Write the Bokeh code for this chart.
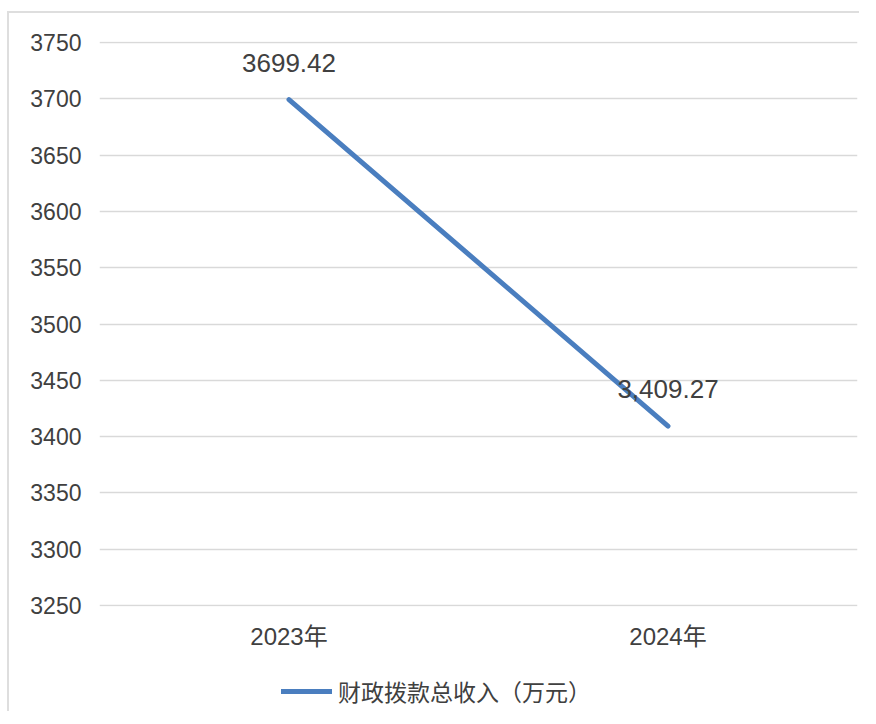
from bokeh.plotting import figure
from bokeh.layouts import column
from bokeh.models import ColumnDataSource, Range1d, FixedTicker, Legend, LegendItem, LabelSet
from bokeh.core.properties import value
from bokeh.embed import file_html
from bokeh.resources import INLINE

# ---- data ----
years = ["2023年", "2024年"]
revenue = [3699.42, 3409.27]
value_labels = ["3699.42", "3,409.27"]
y_ticks = [3250, 3300, 3350, 3400, 3450, 3500, 3550, 3600, 3650, 3700, 3750]
series_name = "财政拨款总收入（万元）"

NUM_FONT = "Liberation Sans"
CJK_FONT = "Liberation Sans, Noto Sans CJK SC"
LINE_COLOR = "#4a7ebf"
TEXT_COLOR = "#404040"

src = ColumnDataSource(dict(x=years, y=revenue, lab=value_labels))

p = figure(
    x_range=years,
    y_range=Range1d(min(y_ticks) - 1, max(y_ticks) + 1),
    width=850, height=648,
    output_backend="svg", toolbar_location=None,
    min_border_left=90, min_border_right=2, min_border_top=28, min_border_bottom=55,
)
p.outline_line_color = None
p.background_fill_color = "white"
p.border_fill_color = "white"

r = p.line("x", "y", source=src, line_color=LINE_COLOR, line_width=5, line_cap="round")

labels = LabelSet(x="x", y="y", text="lab", source=src, text_align="center",
                  text_baseline="alphabetic", y_offset=28,
                  text_font=value(NUM_FONT), text_font_size=value("26px"), text_color=TEXT_COLOR)
p.add_layout(labels)

# axes
p.yaxis.ticker = FixedTicker(ticks=y_ticks)
for ax in (p.xaxis[0], p.yaxis[0]):
    ax.axis_line_color = None
    ax.major_tick_line_color = None
    ax.minor_tick_line_color = None
    ax.major_tick_out = 0
    ax.major_tick_in = 0
    ax.major_label_text_color = TEXT_COLOR
p.yaxis.major_label_text_font = NUM_FONT
p.yaxis.major_label_text_font_size = "23px"
p.yaxis.major_label_standoff = 18
p.xaxis.major_label_text_font = CJK_FONT
p.xaxis.major_label_text_font_size = "24px"
p.xaxis.major_label_standoff = 16

p.xgrid.grid_line_color = None
p.ygrid.grid_line_color = "#d9d9d9"
p.ygrid.grid_line_width = 1.5

# legend strip below the chart
leg_fig = figure(width=850, height=50, output_backend="svg", toolbar_location=None,
                 x_axis_location=None, y_axis_location=None,
                 x_range=Range1d(0, 1), y_range=Range1d(0, 1),
                 min_border=0, min_border_left=0, min_border_right=0,
                 min_border_top=0, min_border_bottom=0)
leg_fig.outline_line_color = None
leg_fig.xgrid.visible = False
leg_fig.ygrid.visible = False
# legend proxy: a single point (draws no visible segment)
leg_r = leg_fig.line(x=[-1], y=[-1], line_color=LINE_COLOR, line_width=5, line_cap="round")

legend = Legend(items=[LegendItem(label=series_name, renderers=[leg_r])],
                orientation="horizontal", location=(182, 3),
                border_line_color=None, background_fill_alpha=0,
                label_text_font=CJK_FONT, label_text_font_size="23px",
                label_text_color=TEXT_COLOR, glyph_width=51, glyph_height=26,
                label_standoff=6, padding=0, margin=0, spacing=0)
leg_fig.add_layout(legend, "center")

layout = column(p, leg_fig, spacing=0)
layout.styles = {"margin-top": "11px", "margin-left": "7px",
                 "border-top": "2px solid #dedede", "border-left": "2px solid #dedede",
                 "background-color": "white"}

open("out.html", "w").write(file_html(layout, INLINE))
